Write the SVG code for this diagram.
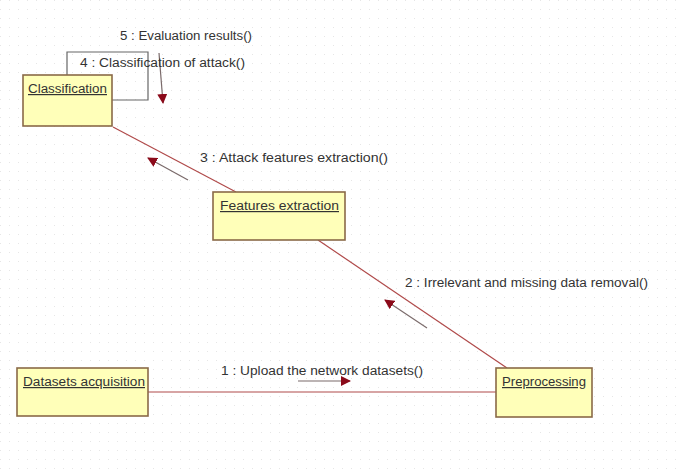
<svg xmlns="http://www.w3.org/2000/svg" width="681" height="470" viewBox="0 0 681 470">
<defs>
<pattern id="grid" width="9" height="9" patternUnits="userSpaceOnUse">
<rect x="0" y="0" width="1" height="1" fill="#e6e6e6"/>
</pattern>
<marker id="ah" viewBox="0 0 10 10" refX="9" refY="5" markerWidth="10" markerHeight="10" markerUnits="userSpaceOnUse" orient="auto">
<path d="M0,0 L10,5 L0,10 Z" fill="#8b0a1a"/>
</marker>
<style>
.box{fill:#ffffb9;stroke:#8a6a48;stroke-width:1.6}
.lbl{font-family:"Liberation Sans",Arial,sans-serif;font-size:12px;fill:#333;text-decoration:underline}
.msg{font-family:"Liberation Sans",Arial,sans-serif;font-size:12px;fill:#333}
.link{stroke:#b04a4a;stroke-width:1.2;fill:none}
.loop{stroke:#666;stroke-width:1.2;fill:none}
.arr{stroke:#7a6a6a;stroke-width:1.2;fill:none;marker-end:url(#ah)}
</style>
</defs>
<rect width="681" height="470" fill="#ffffff"/>
<rect width="681" height="470" fill="url(#grid)"/>
<g id="connectors">
<path class="loop" d="M67,75 V52 H148 V100 H112"/>
<line class="link" x1="113" y1="127" x2="236" y2="192"/>
<line class="link" x1="318" y1="240" x2="507" y2="368"/>
<line class="link" x1="148" y1="392" x2="496" y2="392"/>
<line class="arr" x1="159" y1="53" x2="163" y2="103"/>
<line class="arr" x1="188" y1="180" x2="148" y2="158"/>
<line class="arr" x1="427" y1="328" x2="385" y2="300"/>
<line class="arr" x1="298" y1="381" x2="350" y2="381"/>
<text class="msg" x="120" y="40" textLength="132" lengthAdjust="spacingAndGlyphs">5 : Evaluation results()</text>
<text class="msg" x="80" y="67" textLength="165" lengthAdjust="spacingAndGlyphs">4 : Classification of attack()</text>
<text class="msg" x="200" y="162" textLength="188" lengthAdjust="spacingAndGlyphs">3 : Attack features extraction()</text>
<text class="msg" x="405" y="287" textLength="243" lengthAdjust="spacingAndGlyphs">2 : Irrelevant and missing data removal()</text>
<text class="msg" x="221" y="375" textLength="202" lengthAdjust="spacingAndGlyphs">1 : Upload the network datasets()</text>
</g>
<g id="classification">
<rect class="box" x="23" y="75" width="89" height="51"/>
<text class="lbl" x="28" y="93" textLength="79" lengthAdjust="spacingAndGlyphs">Classification</text>
</g>
<g id="features-extraction">
<rect class="box" x="213" y="192" width="132" height="48"/>
<text class="lbl" x="220" y="210" textLength="119" lengthAdjust="spacingAndGlyphs">Features extraction</text>
</g>
<g id="preprocessing">
<rect class="box" x="496" y="368" width="96" height="49"/>
<text class="lbl" x="502" y="386" textLength="84" lengthAdjust="spacingAndGlyphs">Preprocessing</text>
</g>
<g id="datasets-acquisition">
<rect class="box" x="17" y="368" width="131" height="48"/>
<text class="lbl" x="23" y="386" textLength="122" lengthAdjust="spacingAndGlyphs">Datasets acquisition</text>
</g>
</svg>
